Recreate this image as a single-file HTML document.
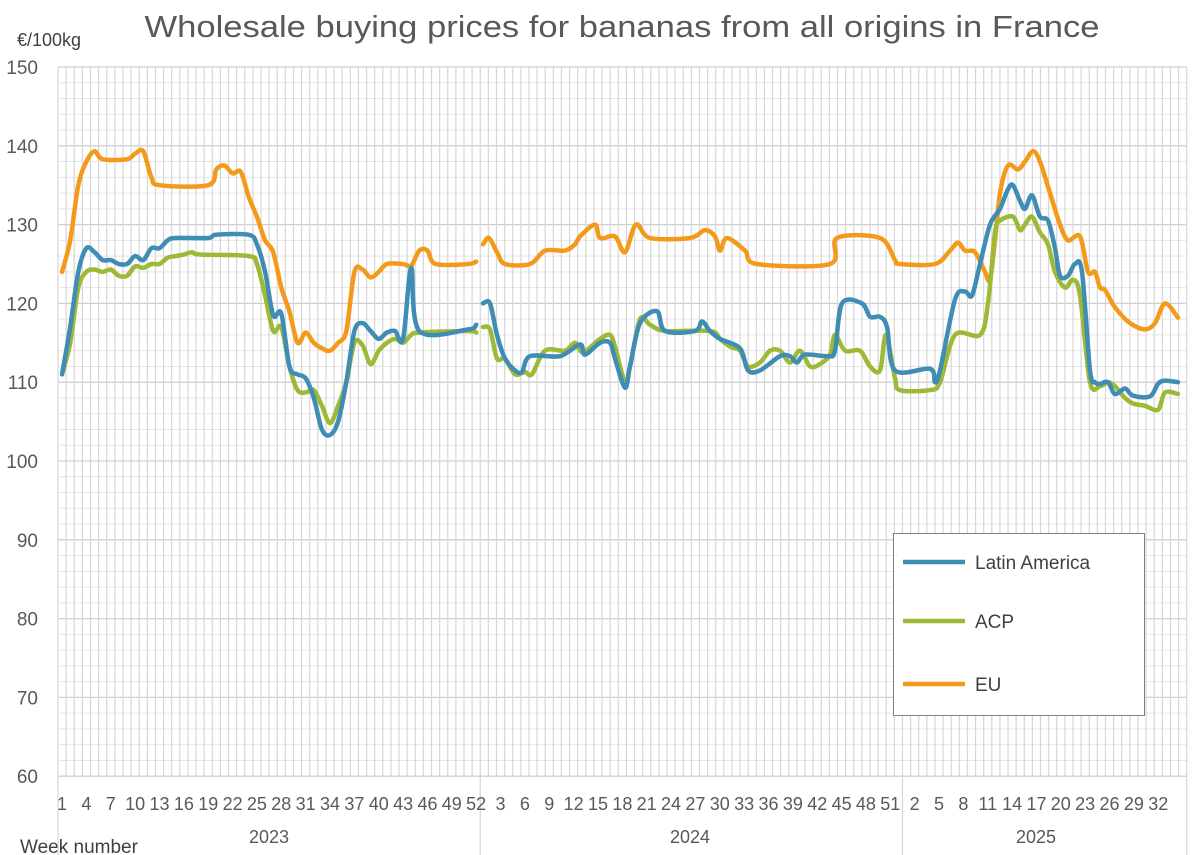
<!DOCTYPE html>
<html><head><meta charset="utf-8"><style>
html,body{margin:0;padding:0;background:#fff;}
svg{display:block;font-family:"Liberation Sans",sans-serif;}
</style></head><body>
<svg id="s" width="1200" height="855" viewBox="0 0 1200 855" xmlns="http://www.w3.org/2000/svg">
<rect width="1200" height="855" fill="#fff"/>
<text x="622" y="37" text-anchor="middle" font-size="31" fill="#595959" textLength="955" lengthAdjust="spacingAndGlyphs">Wholesale buying prices for bananas from all origins in France</text>
<text x="17" y="46" font-size="18" fill="#404040">€/100kg</text>
<text x="20" y="853" font-size="19" fill="#404040">Week number</text>
<g id="grid"></g>
<g id="lab" font-size="18" fill="#595959"></g>
<g id="ser" fill="none" stroke-width="4.5" stroke-linejoin="round" stroke-linecap="round"></g>
<rect x="893.5" y="533.5" width="251" height="182" fill="#fff" stroke="#7f7f7f" stroke-width="1"/>
<line x1="903" y1="562" x2="965" y2="562" stroke="#3f8cb4" stroke-width="4.5"/>
<line x1="903" y1="621" x2="965" y2="621" stroke="#9cba35" stroke-width="4.5"/>
<line x1="903" y1="684" x2="965" y2="684" stroke="#f39a1b" stroke-width="4.5"/>
<text x="975" y="569" font-size="19" fill="#404040">Latin America</text>
<text x="975" y="628" font-size="19" fill="#404040">ACP</text>
<text x="975" y="691" font-size="19" fill="#404040">EU</text>
</svg>
<script>
var NS="http://www.w3.org/2000/svg";
function el(p,t,a,txt){var e=document.createElementNS(NS,t);for(var k in a)e.setAttribute(k,a[k]);if(txt!=null)e.textContent=txt;p.appendChild(e);return e;}
var X0=58,W=8.12,N=139,Y0=67,K=7.88;
function Y(v){return Y0+(150-v)*K;}
var g=document.getElementById('grid'),lab=document.getElementById('lab');
var xr=X0+N*W;
for(var v=60;v<=150;v+=2){var maj=(v%10==0);el(g,'line',{x1:X0,x2:xr,y1:Y(v),y2:Y(v),stroke:maj?'#d0d0d0':'#e6e6e6','stroke-width':maj?1.3:1});
 if(maj)el(lab,'text',{x:38,y:Y(v)+7,'text-anchor':'end','font-size':19},v);}
for(var i=0;i<=N;i++){var x=X0+i*W;el(g,'line',{x1:x,x2:x,y1:Y0,y2:Y(60),stroke:'#d6d6d6','stroke-width':1.2});}
[0,52,104,N].forEach(function(i){var x=X0+i*W;el(g,'line',{x1:x,x2:x,y1:Y(60),y2:855,stroke:'#d6d6d6','stroke-width':1.2});});
function wx(gi){return X0+W*(gi+0.5);}
for(var w=1;w<=52;w+=3)el(lab,'text',{x:wx(w-1),y:810,'text-anchor':'middle'},w);
for(var w=3;w<=52;w+=3)el(lab,'text',{x:wx(51+w),y:810,'text-anchor':'middle'},w);
for(var w=2;w<=32;w+=3)el(lab,'text',{x:wx(103+w),y:810,'text-anchor':'middle'},w);
el(lab,'text',{x:269,y:843,'text-anchor':'middle'},'2023');
el(lab,'text',{x:690,y:843,'text-anchor':'middle'},'2024');
el(lab,'text',{x:1036,y:843,'text-anchor':'middle'},'2025');
function wk(a){return a.map(function(p){return [wx(p[0]-1),Y(p[1])];});}
function px(a){return a.map(function(p){return [p[0],Y(p[1])];});}
var EU23=wk([[1,124],[2,128],[3,135],[4,138],[5,139.3],[6,138.3],[9,138.3],[10,139],[11,139.3],[12,136],[13,135],[19,135],[20,137],[21,137.5],[22,136.5],[23,136.7],[24,133.5],[25,131],[26,128],[27,126.5],[28,122],[29,119],[30,115],[31,116.3],[32,115],[33,114.3],[34,114],[35,115],[36,116.5],[37,124],[38,124.3],[39,123.3],[40,124],[41,125],[43,125],[44,124.8],[45,126.7],[46,126.7],[47,125],[51,125],[52,125.3]]);
var LA23=wk([[1,111],[2,117],[3,124],[4,127],[5,126.5],[6,125.5],[7,125.5],[8,125],[9,125],[10,126],[11,125.5],[12,127],[13,127],[14,128],[15,128.3],[19,128.3],[20,128.7],[24,128.7],[25,127.5],[26,124],[27,118.5],[28,118.7],[29,112],[30,111],[31,110.5],[32,108],[33,104],[34,103.3],[35,105],[36,110],[37,116.5],[38,117.5],[39,116.5],[40,115.5],[41,116.3],[42,116.5],[43,115.5],[44,124.5],[45,116.5],[51,116.7],[52,117.3]]);
var AC23=wk([[1,111],[2,115],[3,122],[4,124],[5,124.3],[6,124],[7,124.3],[8,123.5],[9,123.5],[10,124.7],[11,124.5],[12,125],[13,125],[14,125.8],[15,126],[16,126.2],[17,126.5],[18,126.2],[24,126],[25,125],[26,121],[27,116.5],[28,117],[29,112],[30,109],[31,108.7],[32,109],[33,107],[34,104.8],[35,107],[36,110],[37,115],[38,114.7],[39,112.3],[40,114],[41,115],[42,115.5],[43,115],[44,116],[45,116.3],[51,116.5],[52,116.3]]);
var EU24=px([[483,127.5],[489,128.3],[497,126.5],[505,125],[530,125],[545,126.7],[565,126.7],[575,127.5],[580,128.5],[595,130],[600,128.3],[615,128.5],[625,126.5],[636,130],[650,128.3],[690,128.3],[705,129.3],[715,128.5],[720,126.7],[727,128.3],[745,126.7],[757,125],[830,125],[837,128.3],[880,128.3],[895,125.5],[900,125],[935,125],[950,126.7],[958,127.7],[965,126.7],[975,126.5],[985,124],[990,123],[995,128],[1000,134],[1008,137.5],[1018,137],[1025,138],[1033,139.3],[1040,138],[1050,134],[1060,130],[1068,128],[1080,128.5],[1088,124],[1095,124],[1100,122],[1105,121.7],[1115,119.5],[1130,117.5],[1145,116.7],[1155,117.5],[1165,120],[1178,118.2]]);
var LA24=px([[483,120],[490,120],[497,116],[505,113],[515,111.5],[522,111.3],[530,113.3],[560,113.3],[580,114.8],[585,113.5],[600,115],[610,115],[615,113],[625,109.3],[630,112],[640,117.5],[657,119],[665,116.5],[695,116.5],[702,117.7],[710,116.5],[720,115.5],[740,114.3],[748,111.5],[760,111.5],[780,113.3],[790,113.3],[797,112.5],[805,113.5],[828,113.3],[835,114],[842,120],[862,120],[870,118.3],[880,118.3],[887,117],[895,111.5],[930,111.7],[935,110],[940,111.5],[955,120.5],[965,121.5],[972,121],[980,125],[990,130],[1000,132],[1008,134.5],[1013,135],[1020,133],[1025,132],[1032,133.7],[1040,131],[1048,130.5],[1055,127],[1060,123.5],[1068,123.5],[1075,125],[1082,124],[1090,111.5],[1095,110],[1100,109.8],[1108,110],[1115,108.5],[1125,109.2],[1133,108.3],[1150,108.2],[1158,109.8],[1165,110.2],[1178,110]]);
var AC24=px([[483,117],[490,116.7],[497,113],[505,113],[515,111],[525,111.3],[532,111],[545,114],[565,114],[575,115],[583,113.8],[600,115.5],[610,116],[615,114.5],[625,110],[630,112],[640,118],[650,117.3],[665,116.5],[710,116.5],[720,115.5],[730,114.5],[740,114],[748,112],[760,112.5],[770,114],[780,114],[790,112.5],[800,114],[810,112],[820,112.3],[830,113.5],[835,116],[845,114],[860,114],[870,112],[880,111.5],[886,116],[895,110.5],[900,109],[930,109],[940,110],[955,116],[980,116],[988,120],[995,129],[1000,130.5],[1013,131],[1020,129.3],[1025,130],[1032,131],[1040,129],[1048,127.5],[1055,124],[1065,122],[1073,123],[1080,121],[1090,110],[1100,109.5],[1108,110],[1115,109.5],[1125,108],[1133,107.3],[1145,107],[1158,106.5],[1165,108.7],[1178,108.5]]);
function path(p){var d='M'+p[0][0]+','+p[0][1];var t=0.16;
 for(var i=0;i<p.length-1;i++){var p0=p[i-1]||p[i],p1=p[i],p2=p[i+1],p3=p[i+2]||p2;
  var c1x=p1[0]+(p2[0]-p0[0])*t,c1y=p1[1]+(p2[1]-p0[1])*t,c2x=p2[0]-(p3[0]-p1[0])*t,c2y=p2[1]-(p3[1]-p1[1])*t;
  d+=' C'+c1x.toFixed(1)+','+c1y.toFixed(1)+' '+c2x.toFixed(1)+','+c2y.toFixed(1)+' '+p2[0].toFixed(1)+','+p2[1].toFixed(1);}
 return d;}
var s=document.getElementById('ser');
[[EU23,'#f39a1b'],[EU24,'#f39a1b'],[AC23,'#9cba35'],[AC24,'#9cba35'],[LA23,'#3f8cb4'],[LA24,'#3f8cb4']].forEach(function(a){el(s,'path',{d:path(a[0]),stroke:a[1]});});
</script>
</body></html>
